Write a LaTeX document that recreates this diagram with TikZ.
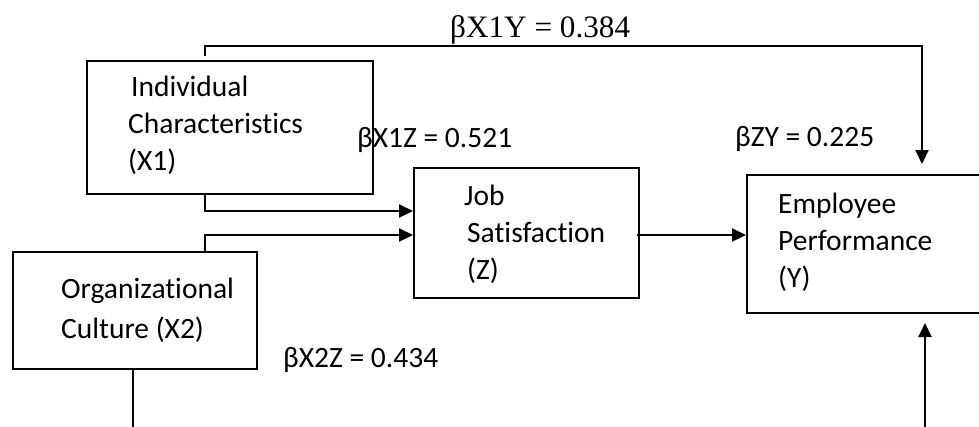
\documentclass[tikz,border=0pt]{standalone}
\usepackage{fontspec}
\setmainfont{Carlito}[Ligatures=NoCommon]
\newfontfamily\serifl{Liberation Serif}
\usetikzlibrary{arrows.meta}
\begin{document}
\begin{tikzpicture}[x=1pt,y=-1pt,
  box/.style={draw,line width=2pt,rectangle,inner sep=0pt},
  txt/.style={anchor=base west,inner sep=0pt,font=\fontsize{29.5}{37}\selectfont},
  stxt/.style={anchor=base west,inner sep=0pt,font=\serifl\fontsize{31.2}{37}\selectfont},
  conn/.style={line width=2pt},
  arr/.style={line width=2pt,-{Triangle[length=14pt,width=13pt]}}]
\useasboundingbox (0,0) rectangle (979,426);
\clip (0,0) rectangle (979,426);
% boxes
\node[box,minimum width=286pt,minimum height=133pt] (X1) at (230,127.5) {};
\node[box,minimum width=244pt,minimum height=117pt] (X2) at (135,310.5) {};
\node[box,minimum width=225pt,minimum height=130pt] (Z) at (526.5,233) {};
\node[box,minimum width=253pt,minimum height=138pt] (Y) at (873.5,244) {};
% box texts
\node[txt] (x1a) at (131,96) {Individual};
\node[txt] (x1b) at (128,133) {Characteristics};
\node[txt] (x1c) at (128,170) {(X1)};
\node[txt] (x2a) at (61,298) {Organizational};
\node[txt] (x2b) at (61,338) {Culture (X2)};
\node[txt] (za) at (464,205) {Job};
\node[txt] (zb) at (467,242) {Satisfaction};
\node[txt] (zc) at (467,279) {(Z)};
\node[txt] (ya) at (778,213) {Employee};
\node[txt] (yb) at (778,250) {Performance};
\node[txt] (yc) at (778,287) {(Y)};
% coefficient labels
\node[stxt] (l1) at (450,37) {βX1Y = 0.384};
\node[txt] (l2) at (357,147) {βX1Z = 0.521};
\node[txt] (l3) at (735,146) {βZY = 0.225};
\node[txt] (l4) at (283,367) {βX2Z = 0.434};
% connector coordinates
\coordinate (c1) at (205,46);
\coordinate (c2) at (922,46);
\coordinate (e1) at (133,432);
\coordinate (e2) at (925,432);
% connectors
\draw[arr] ([yshift=4pt]X1.north -| c1) -- (c1) -- (c2) -- ([yshift=10pt]Y.north -| c2);
\draw[arr] (X1.south -| c1) |- ([yshift=22pt]Z.west);
\draw[arr] (X2.north -| c1) |- ([yshift=-2pt]Z.west);
\draw[arr] ([xshift=-3pt,yshift=-2pt]Z.east) coordinate (zs) -- (zs -| Y.west);
\draw[conn] (X2.south -| e1) -- (e1);
\draw[arr] (e2) -- ([yshift=-9pt]Y.south -| e2);
\end{tikzpicture}
\end{document}
